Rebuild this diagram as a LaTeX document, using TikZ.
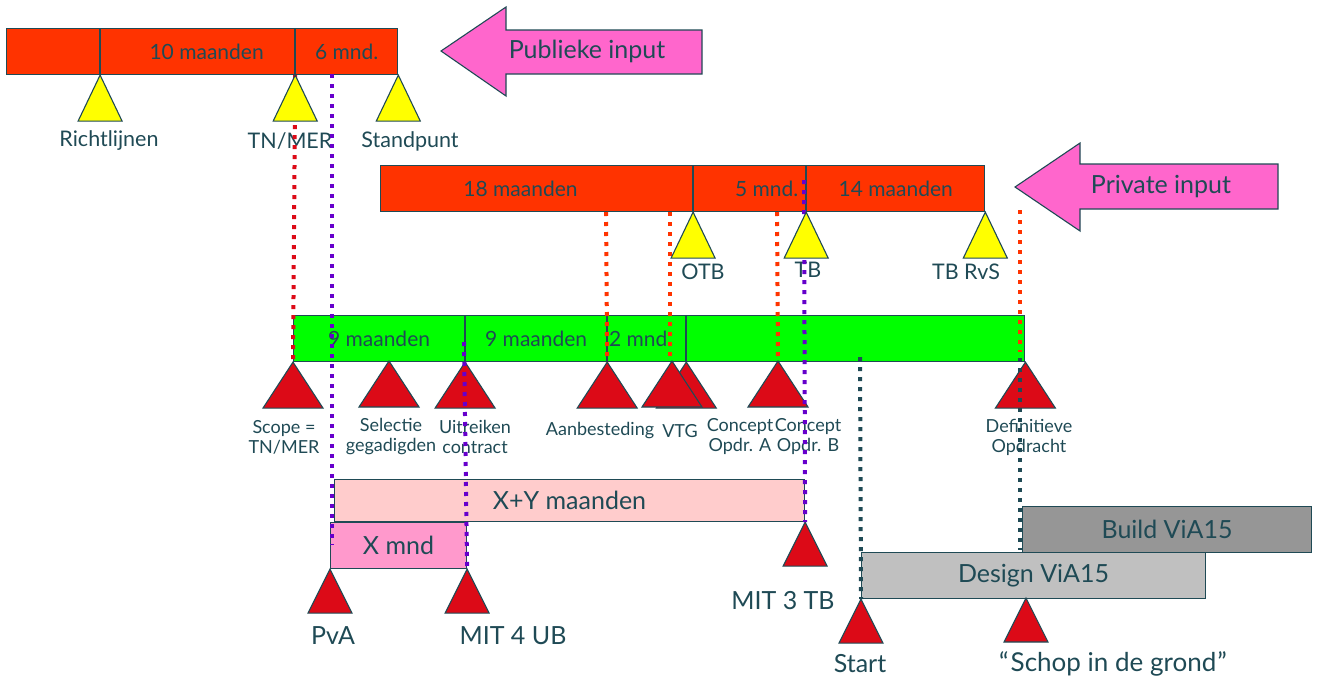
\documentclass[tikz,border=0pt]{standalone}
\usepackage{fontspec}
\setsansfont{Lato}
\usepackage{xcolor}
\definecolor{ink}{HTML}{1F4A55}
\definecolor{barred}{HTML}{FF3300}
\definecolor{bargreen}{HTML}{00FF00}
\definecolor{msyellow}{HTML}{FFFF00}
\definecolor{msred}{HTML}{DC0A17}
\definecolor{arrowpink}{HTML}{FF66CC}
\definecolor{xypink}{HTML}{FFCCCC}
\definecolor{xpink}{HTML}{FF99CC}
\definecolor{designgrey}{HTML}{C0C0C0}
\definecolor{buildgrey}{HTML}{969696}
\definecolor{mitpurple}{HTML}{6600CC}
\usepackage{tikz}
\usetikzlibrary{positioning,calc}

\begin{document}
\begin{tikzpicture}[
  x=1pt,y=-1pt,
  font=\sffamily,
  every node/.style={align=center,text=ink},
  seg/.style={draw=ink,line width=1.1pt,inner sep=0pt,minimum height=46pt,
              anchor=north west,font=\sffamily\fontsize{21}{23}\selectfont},
  redseg/.style={seg,fill=barred},
  greenseg/.style={seg,fill=bargreen},
  box/.style={seg,font=\sffamily\fontsize{25}{28}\selectfont},
  ytri/.style={draw=ink,line width=1.1pt,fill=msyellow},
  rtri/.style={draw=ink,line width=1.1pt,fill=msred},
  inarrow/.style={draw=ink,line width=1.1pt,fill=arrowpink},
  toplbl/.style={font=\sffamily\fontsize{21.5}{23}\selectfont},
  mslbl/.style={font=\sffamily\fontsize{18}{20}\selectfont},
  biglbl/.style={font=\sffamily\fontsize{25}{28}\selectfont},
  dotl/.style={line width=4pt,dash pattern=on 4pt off 6pt},
]
\useasboundingbox (0,0) rectangle (1320,681);

% --- publieke fase
\node[redseg,minimum width=93pt]  (p1) at (6,28) {};
\node[redseg,minimum width=194pt] (p2) at (p1.north east)
     {\hspace*{18pt}10 maanden};
\node[redseg,minimum width=102pt] (p3) at (p2.north east) {6 mnd.};

\draw[inarrow] (441,51) -- (506,7) -- (506,30) -- (702,30) -- (702,74)
     -- (506,74) -- (506,96) -- cycle;
\node[biglbl] (pubin) at (587,51) {Publieke input};

% --- private fase
\node[redseg,minimum width=312pt] (q1) at (380,165) {\hspace*{-32pt}18 maanden};
\node[redseg,minimum width=112pt] (q2) at (q1.north east) {\hspace*{34pt}5 mnd.};
\node[redseg,minimum width=178pt] (q3) at (q2.north east) {14 maanden};

\draw[inarrow] (1015,187) -- (1080,143) -- (1080,164) -- (1278,164)
     -- (1278,209) -- (1080,209) -- (1080,231) -- cycle;
\node[biglbl] (privin) at (1161,187) {Private input};

% --- aanbesteding (groene balk)
\node[greenseg,minimum width=171pt] (g1) at (293,315) {9 maanden};
\node[greenseg,minimum width=141pt] (g2) at (g1.north east) {9 maanden};
\node[greenseg,minimum width=78pt]  (g3) at (g2.north east) {\hspace*{-12pt}2 mnd.};
\node[greenseg,minimum width=338pt] (g4) at (g3.north east) {};

% --- onderste balken
\node[box,fill=xypink,minimum width=470pt,minimum height=42pt] (xy) at (334,479) {X+Y maanden};
\node[box,fill=xpink,minimum width=136pt] (xm) at (330,522) {X mnd};
\node[box,fill=designgrey,minimum width=344pt] (des) at (861,552) {Design ViA15};
\node[box,fill=buildgrey,minimum width=289pt] (bld) at (1022,506) {Build ViA15};

% --- mijlpalen
\coordinate (richt) at (p1.south east);
\coordinate (tnmer) at (p2.south east);
\coordinate (stand) at (p3.south east);
\coordinate (otb)   at (q1.south east);
\coordinate (tb)    at (q2.south east);
\coordinate (tbrvs) at (q3.south east);
\coordinate (scope) at (g1.south west);
\coordinate (selec) at (389,361);
\coordinate (uitr)  at (g1.south east);
\coordinate (aanb)  at (g2.south east);
\coordinate (vtgb)  at (g3.south east);
\coordinate (vtg)   at (672,361);
\coordinate (conA)  at (778,361);
\coordinate (defop) at (g4.south east);
\coordinate (pva)   at (xm.south west);
\coordinate (mit4)  at (xm.south east);
\coordinate (mit3)  at (xy.south east);
\coordinate (start) at (des.south west);
\coordinate (schop) at (1026,598);

\node[toplbl] (lrich)  at (109,141) {Richtlijnen};
\node[toplbl] (ltnmer) at (290,141) {TN/MER};
\node[toplbl] (lstand) at (410,141) {Standpunt};
\node[toplbl] (lotb)   at (703,272) {OTB};
\node[toplbl] (ltb)    at (808,270) {TB};
\node[toplbl] (ltbrvs) at (966,272) {TB RvS};

\node[mslbl] (lscope) at (284,437) {Scope =\\TN/MER};
\node[mslbl] (lselec) at (391,437) {Selectie\\gegadigden};
\node[mslbl] (luitr)  at (475,437) {Uitreiken\\contract};
\node[mslbl] (laanb)  at (600,431) {Aanbesteding};
\node[mslbl] (lvtg)   at (680,431) {VTG};
\node[mslbl] (lconA)  at (740,437) {Concept\\Opdr. A};
\node[mslbl] (lconB)  at (808,437) {Concept\\Opdr. B};
\node[mslbl] (ldefop) at (1029,437) {Definitieve\\Opdracht};

\node[biglbl] (lpva)   at (333,636) {PvA};
\node[biglbl] (lmit4)  at (513,636) {MIT 4 UB};
\node[biglbl] (lmit3)  at (783,601) {MIT 3 TB};
\node[biglbl] (lstart) at (860,664) {Start};
\node[biglbl,font=\sffamily\fontsize{26}{28}\selectfont] (lschop) at (1113,664)
     {“\kern2pt Schop in de grond\kern1pt”};

\foreach \c in {scope,selec,uitr,aanb,vtgb,vtg,conA,defop}
  \draw[rtri] (\c) -- ++(30,46) -- ++(-60,0) -- cycle;
\foreach \c in {pva,mit4,mit3,start,schop}
  \draw[rtri] (\c) -- ++(22,44) -- ++(-44,0) -- cycle;

% --- stippellijnen
\coordinate (pu1a) at (332,74);  \coordinate (pu1b) at (332,545);
\coordinate (pu2a) at (464,342);
\coordinate (pu3a) at (804,180);
\coordinate (or1) at (606,212);
\coordinate (or2a) at (670,212); \coordinate (or2b) at (670,361);
\coordinate (or3) at (777,212);
\coordinate (or4a) at (1020,210); \coordinate (or4b) at (1020,352);
\coordinate (te1a) at (860,357);
\coordinate (te2a) at (1020,358); \coordinate (te2b) at (1020,550);

\draw[dotl,msred] (tnmer) -- (scope);
\draw[dotl,barred] (or1) -- (aanb);
\draw[dotl,barred] (or2a) -- (or2b);
\draw[dotl,barred] (or3) -- (conA);
\draw[dotl,barred] (or4a) -- (or4b);
\draw[dotl,mitpurple] (pu1a) -- (pu1b);
\draw[dotl,mitpurple] (pu2a) -- (mit4);
\draw[dotl,mitpurple] (pu3a) -- (mit3);
\draw[dotl,ink] (te1a) -- (start);
\draw[dotl,ink] (te2a) -- (te2b);

\foreach \c in {richt,tnmer,stand,otb,tb,tbrvs}
  \draw[ytri] (\c) -- ++(22,46) -- ++(-44,0) -- cycle;

\end{tikzpicture}
\end{document}
